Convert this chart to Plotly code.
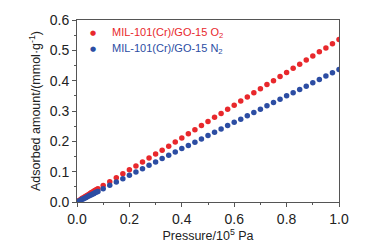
import plotly.graph_objects as go

pressure = [0.005, 0.01, 0.015, 0.02, 0.025, 0.03, 0.035, 0.04, 0.045, 0.05, 0.055, 0.06,
            0.065, 0.07, 0.075, 0.08,
            0.1, 0.125, 0.15, 0.175, 0.2, 0.225, 0.25, 0.275, 0.3, 0.325, 0.35, 0.375,
            0.4, 0.425, 0.45, 0.475, 0.5, 0.525, 0.55, 0.575, 0.6, 0.625, 0.65, 0.675,
            0.7, 0.725, 0.75, 0.775, 0.8, 0.825, 0.85, 0.875, 0.9, 0.925, 0.95, 0.975, 1.0]

o2_uptake = [0.003, 0.006, 0.009, 0.012, 0.014, 0.017, 0.020, 0.022, 0.025, 0.028, 0.031, 0.033,
             0.036, 0.039, 0.041, 0.044,
             0.054, 0.067, 0.080, 0.093, 0.106, 0.119, 0.132, 0.145, 0.158, 0.171, 0.184, 0.198,
             0.211, 0.225, 0.238, 0.252, 0.265, 0.279, 0.292, 0.306, 0.319, 0.333, 0.346, 0.360,
             0.373, 0.387, 0.400, 0.414, 0.427, 0.441, 0.454, 0.468, 0.481, 0.495, 0.508, 0.522, 0.536]

n2_uptake = [0.002, 0.004, 0.007, 0.009, 0.011, 0.013, 0.015, 0.018, 0.020, 0.022, 0.024, 0.026,
             0.028, 0.031, 0.033, 0.035,
             0.044, 0.055, 0.066, 0.077, 0.088, 0.099, 0.110, 0.121, 0.132, 0.143, 0.154, 0.165,
             0.176, 0.186, 0.197, 0.208, 0.219, 0.230, 0.241, 0.252, 0.263, 0.273, 0.284, 0.295,
             0.306, 0.317, 0.328, 0.339, 0.350, 0.360, 0.371, 0.382, 0.393, 0.404, 0.415, 0.426, 0.437]

series_names = ["MIL-101(Cr)/GO-15 O<sub>2</sub>", "MIL-101(Cr)/GO-15 N<sub>2</sub>"]

RED = "#e8282c"
BLUE = "#2c4da3"
colors = [RED, BLUE]

fig = go.Figure()
for vals, name, col in zip([o2_uptake, n2_uptake], series_names, colors):
    fig.add_trace(go.Scatter(
        x=pressure, y=vals, mode="markers",
        marker=dict(color=col, size=5.5),
        name=name, showlegend=False))

# legend drawn as annotations
legend_y = [0.926, 0.842]
for name, col, ly in zip(series_names, colors, legend_y):
    fig.add_annotation(xref="paper", yref="paper", x=0.061, y=ly, text="●",
                       showarrow=False, xanchor="center", yanchor="middle",
                       font=dict(size=7, color=col, family="DejaVu Sans"))
    fig.add_annotation(xref="paper", yref="paper", x=0.126, y=ly, text=name,
                       showarrow=False, xanchor="left", yanchor="middle",
                       font=dict(size=11, color=col))

axis_common = dict(
    showline=True, linecolor="#555555", linewidth=1, mirror=True,
    ticks="outside", ticklen=4, tickcolor="#555555", tickwidth=1,
    showgrid=False, zeroline=False,
    tickfont=dict(size=14, color="#222222"),
)

fig.update_xaxes(range=[0, 1.0], tick0=0, dtick=0.2, tickformat=".1f",
                 minor=dict(ticks="outside", ticklen=2, dtick=0.1, tickcolor="#555555"),
                 title=dict(text="Pressure/10<sup>5</sup> Pa", font=dict(size=12.5, color="#222222"),
                            standoff=3),
                 **axis_common)
fig.update_yaxes(range=[0, 0.6], tick0=0, dtick=0.1, tickformat=".1f",
                 minor=dict(ticks="outside", ticklen=2, dtick=0.05, tickcolor="#555555"),
                 title=dict(text="Adsorbed amount/(mmol·g<sup>-1</sup>)", font=dict(size=12.5, color="#222222"),
                            standoff=6),
                 **axis_common)

fig.update_layout(
    width=373, height=251,
    margin=dict(l=77, r=34, t=16, b=47),
    paper_bgcolor="white", plot_bgcolor="white",
    font=dict(family="Liberation Sans, Arial, sans-serif"),
    showlegend=False,
)

fig.write_html("out.html", config={"displayModeBar": False},
               post_script="document.body.style.margin='0';")
